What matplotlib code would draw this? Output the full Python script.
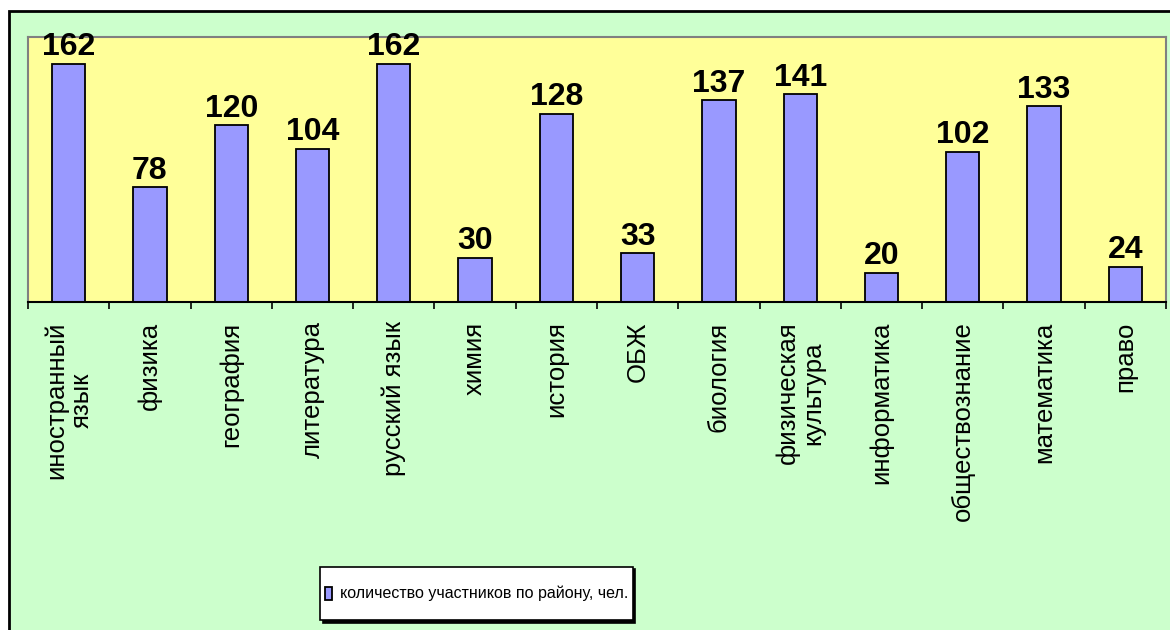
import numpy as np
import matplotlib.pyplot as plt
from matplotlib.patches import Rectangle
from matplotlib.legend_handler import HandlerPatch

subjects = [
    "иностранный\nязык", "физика", "география", "литература", "русский язык",
    "химия", "история", "ОБЖ", "биология", "физическая\nкультура",
    "информатика", "обществознание", "математика", "право",
]
participants = [162, 78, 120, 104, 162, 30, 128, 33, 137, 141, 20, 102, 133, 24]
series_name = "количество участников по району, чел."

font = ["Liberation Sans", "DejaVu Sans"]

fig = plt.figure(figsize=(11.7, 6.3), dpi=100, facecolor="white")

# outer chart frame (green background)
frame = Rectangle((9 / 1170, -0.05), 1.2, 1 - 11 / 630 + 0.05,
                  transform=fig.transFigure, facecolor="#CCFFCC",
                  edgecolor="black", linewidth=2, zorder=-10)
fig.patches.append(frame)

ax = fig.add_axes([28 / 1170, 1 - 302 / 630, (1166 - 28) / 1170, (302 - 37) / 630])
ax.set_facecolor("#FFFF99")

x = np.arange(len(subjects))
bars = ax.bar(x, participants, width=0.41, color="#9999FF", edgecolor="black",
              linewidth=1.3, label=series_name, zorder=2)

for xi, v in zip(x, participants):
    ax.annotate(str(v), (xi, v), xytext=(0, 1), textcoords="offset points",
                ha="center", va="bottom", fontsize=23, fontweight="bold",
                family=font, zorder=3)

ax.set_xlim(-0.5, len(subjects) - 0.5)
ax.set_ylim(0, 180)
ax.set_yticks([])

ax.set_xticks(x)
ax.set_xticklabels(subjects, rotation=90, ha="center", va="top",
                   fontsize=18.5, family=font, linespacing=1.05,
                   multialignment="center")
ax.tick_params(axis="x", which="major", length=0, pad=14)
ax.set_xticks(np.arange(len(subjects) + 1) - 0.5, minor=True)
ax.tick_params(axis="x", which="minor", length=5, width=1.2, color="black",
               direction="out")

for side in ["top", "left", "right"]:
    ax.spines[side].set_color("#808080")
    ax.spines[side].set_linewidth(1.5)
ax.spines["bottom"].set_color("black")
ax.spines["bottom"].set_linewidth(1.5)


# small square marker in a tall legend row
def small_box(legend, orig_handle, xdescent, ydescent, width, height, fontsize):
    h = 0.85 * fontsize
    return Rectangle((-xdescent, -ydescent + (height - h) / 2), width, h)


leg = fig.legend(handles=[bars.patches[0]], labels=[series_name], loc="center",
                 bbox_to_anchor=(476.5 / 1170, 36.5 / 630),
                 prop={"family": font, "size": 11.5},
                 handler_map={Rectangle: HandlerPatch(patch_func=small_box)},
                 handlelength=0.45, handleheight=3.9, handletextpad=0.45,
                 borderpad=0.3, borderaxespad=0, fancybox=False, framealpha=1,
                 edgecolor="black", facecolor="white",
                 shadow={"ox": 2, "oy": -2, "color": "black", "alpha": 1})
leg.get_frame().set_linewidth(1.2)

fig.savefig("out.png", dpi=100, facecolor=fig.get_facecolor())
